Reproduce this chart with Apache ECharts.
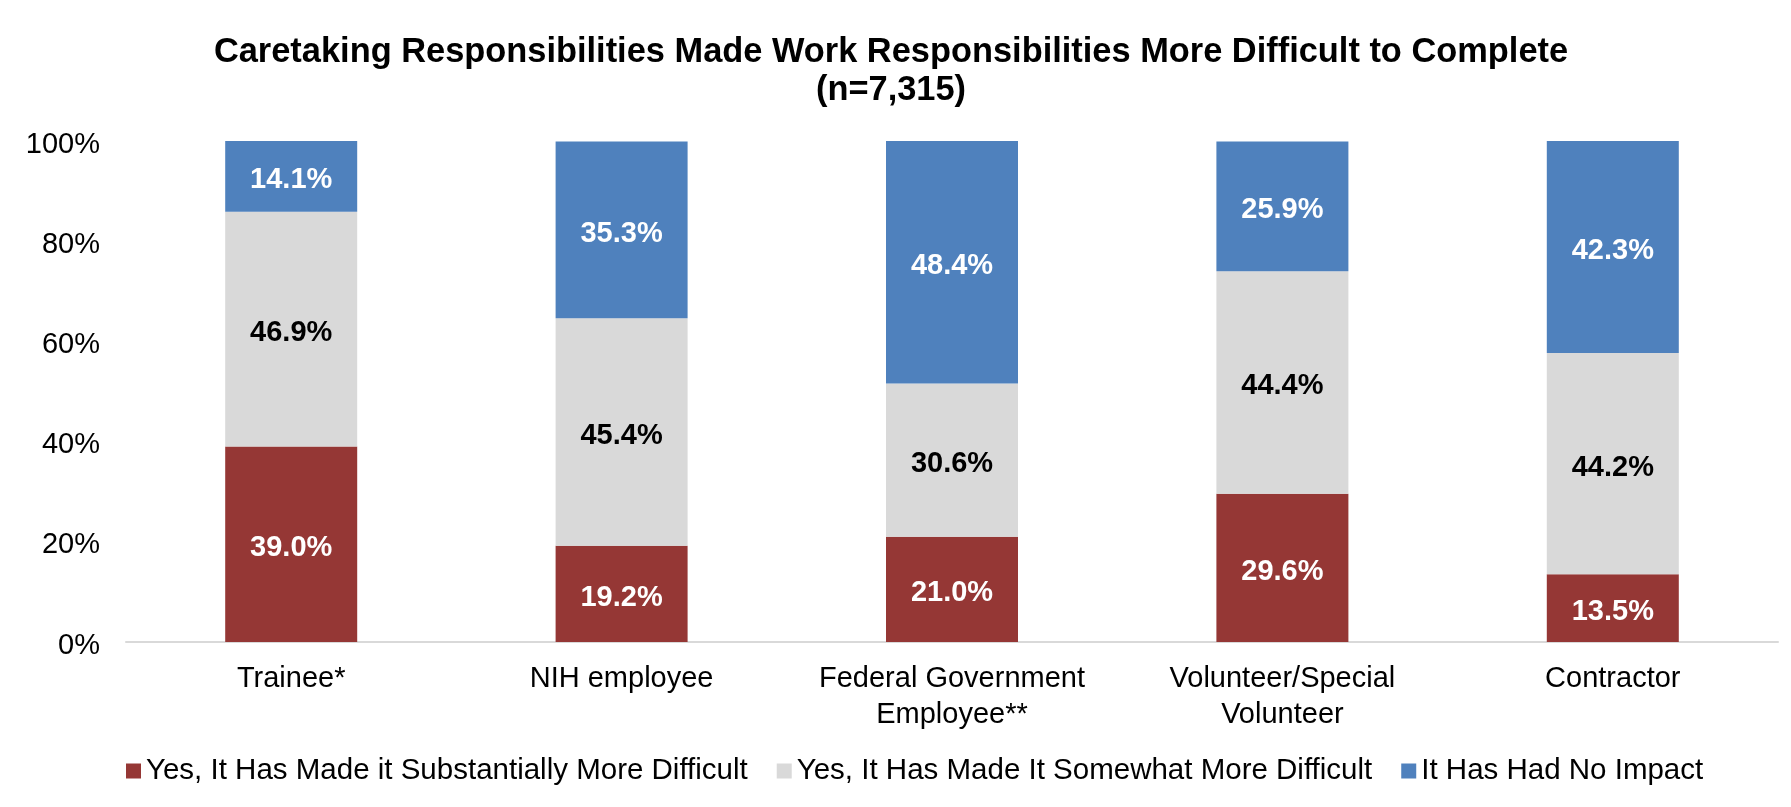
<!DOCTYPE html>
<html>
<head>
<meta charset="utf-8">
<script src="https://cdn.jsdelivr.net/npm/echarts@6/dist/echarts.min.js"></script>
<style>
  html, body { margin: 0; padding: 0; background: #ffffff; }
  #chart { width: 1791px; height: 807px; }
</style>
</head>
<body>
<div id="chart"></div>
<script>
// Respondent groups along the x axis
const categories = ['Trainee*', 'NIH employee', 'Federal Government\nEmployee**', 'Volunteer/Special\nVolunteer', 'Contractor'];

// Share of respondents (%) per answer, one value per group
const substantiallyMoreDifficult = [39.0, 19.2, 21.0, 29.6, 13.5];
const somewhatMoreDifficult = [46.9, 45.4, 30.6, 44.4, 44.2];
const noImpact = [14.1, 35.3, 48.4, 25.9, 42.3];

const seriesNames = [
  'Yes, It Has Made it Substantially More Difficult',
  'Yes, It Has Made It Somewhat More Difficult',
  'It Has Had No Impact'
];

const FONT = '"Liberation Sans", Arial, sans-serif';

function segment(name, data, color, labelColor) {
  return {
    name: name,
    type: 'bar',
    stack: 'total',
    data: data,
    barWidth: 132,
    itemStyle: { color: color },
    label: {
      show: true,
      position: 'inside',
      offset: [0, 4],
      formatter: p => p.value.toFixed(1) + '%',
      color: labelColor,
      fontFamily: FONT,
      fontWeight: 'bold',
      fontSize: 29
    },
    emphasis: { disabled: true }
  };
}

const chart = echarts.init(document.getElementById('chart'), null, { renderer: 'canvas' });
chart.setOption({
  animation: false,
  backgroundColor: '#ffffff',
  title: {
    text: 'Caretaking Responsibilities Made Work Responsibilities More Difficult to Complete\n(n=7,315)',
    left: 886,
    top: 29,
    textAlign: 'center',
    textStyle: {
      fontFamily: FONT,
      fontWeight: 'bold',
      fontSize: 34.4,
      lineHeight: 37.5,
      color: '#000000'
    }
  },
  legend: {
    left: 126,
    top: 756,
    padding: 0,
    itemWidth: 15,
    itemHeight: 15,
    itemGap: 29,
    icon: 'rect',
    textStyle: { fontFamily: FONT, fontSize: 29.5, color: '#000000' },
    data: seriesNames
  },
  grid: { left: 126, right: 13, top: 141, bottom: 165, containLabel: false },
  xAxis: {
    type: 'category',
    data: categories,
    axisLine: { show: true, lineStyle: { color: '#d9d9d9', width: 2 } },
    axisTick: { show: false },
    axisLabel: {
      fontFamily: FONT,
      fontSize: 29,
      lineHeight: 36,
      color: '#000000',
      margin: 19,
      interval: 0
    }
  },
  yAxis: {
    type: 'value',
    min: 0,
    max: 100,
    interval: 20,
    axisLine: { show: false },
    axisTick: { show: false },
    splitLine: { show: false },
    axisLabel: {
      color: '#000000',
      margin: 26,
      formatter: v => '{v|' + v + '%}',
      rich: {
        v: { fontFamily: FONT, fontSize: 29, color: '#000000', padding: [7, 0, 0, 0] }
      }
    }
  },
  series: [
    segment(seriesNames[0], substantiallyMoreDifficult, '#953735', '#ffffff'),
    segment(seriesNames[1], somewhatMoreDifficult, '#d9d9d9', '#000000'),
    segment(seriesNames[2], noImpact, '#4f81bd', '#ffffff')
  ]
});
</script>
</body>
</html>
